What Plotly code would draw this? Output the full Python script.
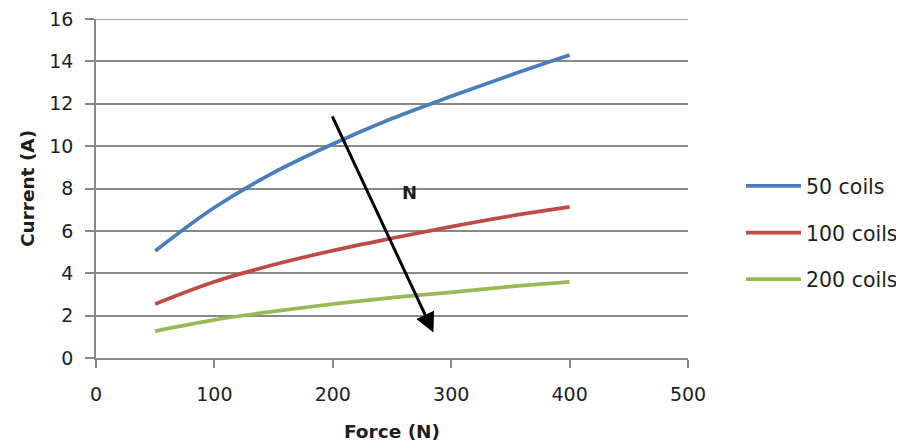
import plotly.graph_objects as go

force = [50, 100, 150, 200, 250, 300, 350, 400]
coils_50 = [5.05, 7.1, 8.75, 10.1, 11.3, 12.35, 13.35, 14.3]
coils_100 = [2.55, 3.6, 4.4, 5.07, 5.65, 6.2, 6.7, 7.13]
coils_200 = [1.27, 1.8, 2.2, 2.55, 2.85, 3.1, 3.37, 3.59]
series_names = ["50 coils", "100 coils", "200 coils"]
colors = ["#4A7EBB", "#BE4B48", "#98B954"]
y_ticks = [0, 2, 4, 6, 8, 10, 12, 14, 16]
x_ticks = [0, 100, 200, 300, 400, 500]

arrow_start = (199, 11.47)
arrow_end = (285, 1.2)
arrow_label = "N"
label_pos = (265, 7.8)

font_family = "'DejaVu Sans', sans-serif"
txt = "#1e1e1e"
grid_col = "#888"

fig = go.Figure()
for i, (name, vals) in enumerate(zip(series_names, [coils_50, coils_100, coils_200])):
    fig.add_trace(go.Scatter(
        x=force, y=vals, mode="lines", name=name, legendgroup=name,
        line=dict(color=colors[i], width=3.7, shape="spline"),
    ))

# top gridline (the library drops the gridline at the range edge)
fig.add_shape(type="line", xref="paper", yref="y", x0=0, x1=1, y0=y_ticks[-1], y1=y_ticks[-1],
              line=dict(color=grid_col, width=1.5), layer="below")

fig.add_annotation(
    x=arrow_end[0], y=arrow_end[1], ax=arrow_start[0], ay=arrow_start[1],
    xref="x", yref="y", axref="x", ayref="y",
    showarrow=True, arrowhead=2, arrowsize=1.3, arrowwidth=3, arrowcolor="black", text="",
)
fig.add_annotation(
    x=label_pos[0], y=label_pos[1], xref="x", yref="y", text="<b>" + arrow_label + "</b>",
    showarrow=False, font=dict(size=18, color=txt, family=font_family),
)

axis_common = dict(
    zeroline=False, showline=True, linecolor=grid_col, linewidth=1.5,
    ticks="outside", tickcolor=grid_col, tickwidth=1.5, automargin=False,
    ticklabeloverflow="allow",
    tickfont=dict(size=19, color=txt, family=font_family),
)
fig.update_xaxes(
    range=[0, 500], tickvals=x_ticks, ticklen=8, showgrid=False,
    title=dict(text="<b>Force (N)</b>", font=dict(size=18.5, color=txt, family=font_family), standoff=22),
    ticklabelstandoff=10, **axis_common,
)
fig.update_yaxes(
    range=[0, 16], tickvals=y_ticks, ticklen=9,
    showgrid=True, gridcolor=grid_col, gridwidth=1.5,
    title=dict(text="<b>Current (A)</b>", font=dict(size=18.5, color=txt, family=font_family), standoff=10),
    ticklabelstandoff=8, **axis_common,
)

fig.update_layout(
    width=896, height=438,
    margin=dict(l=88, r=216, t=11, b=88, autoexpand=False),
    plot_bgcolor="white", paper_bgcolor="white",
    font=dict(family=font_family, color=txt),
    legend=dict(
        x=1.0895, y=0.37, xanchor="left", yanchor="middle",
        font=dict(size=20.5, color=txt, family=font_family),
        tracegroupgap=17, itemwidth=55, bgcolor="rgba(0,0,0,0)",
    ),
)

fig.write_html("out.html")
